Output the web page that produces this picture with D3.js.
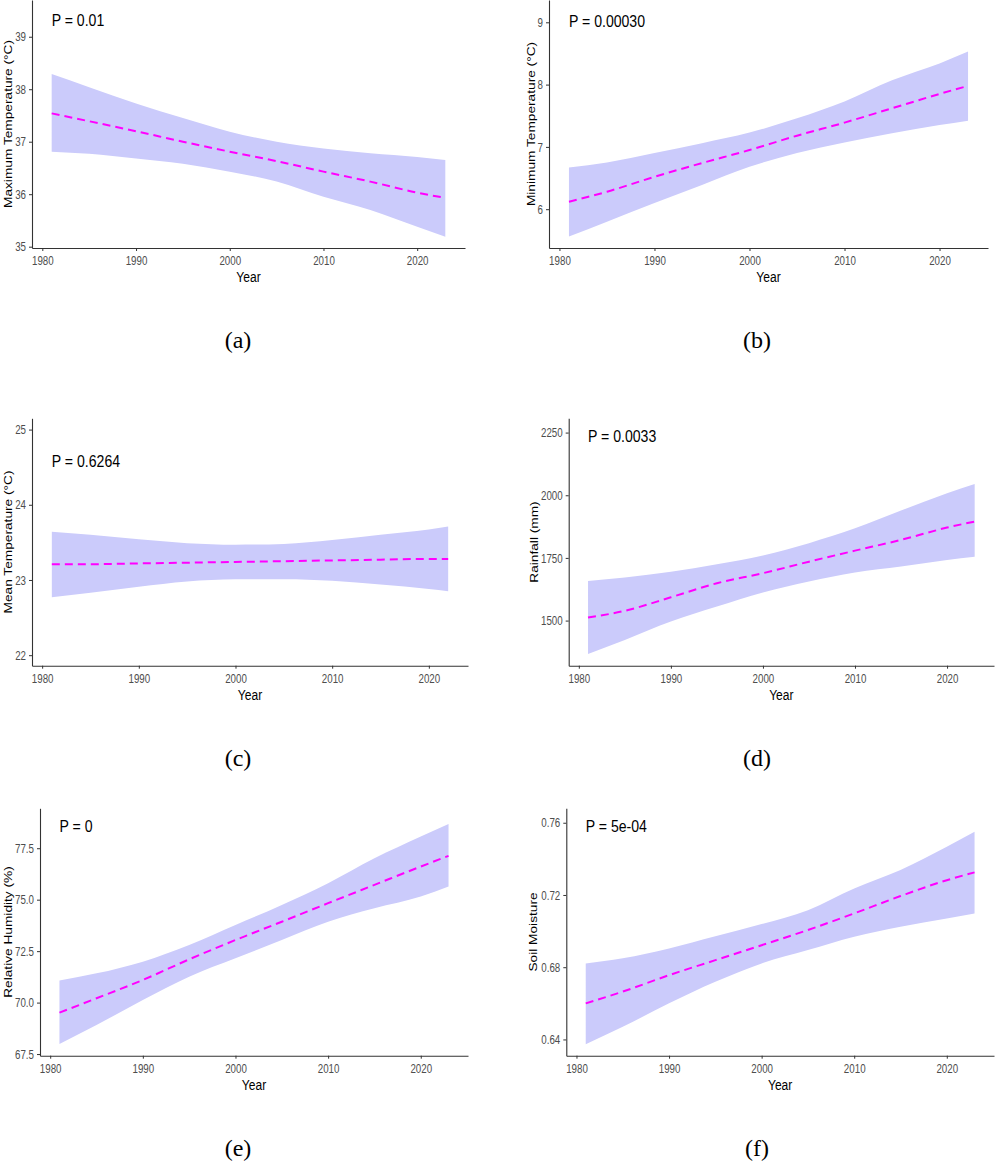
<!DOCTYPE html>
<html>
<head>
<meta charset="utf-8">
<script src="https://cdn.jsdelivr.net/npm/d3@7"></script>
<style>
  body { margin: 0; background: #fff; }
  text { font-family: "Liberation Sans", Arial, sans-serif; }
  .tick text { fill: #4d4d4d; font-size: 13px; }
  .tick line { stroke: #333; }
  .domain { stroke: #333; stroke-width: 1.1px; }
  .caption { font-family: "Liberation Serif", "Times New Roman", serif; font-size: 24px; fill: #000; }
</style>
</head>
<body>
<div id="chart"></div>
<script>
var years = [1981, 1985, 1990, 1995, 2000, 2005, 2010, 2015, 2020, 2023];
var yearsC = [1981, 1985, 1990, 1995, 2000, 2005, 2010, 2015, 2020, 2022];
var xTicks = [1980, 1990, 2000, 2010, 2020];

// (a) maximum temperature
var tmaxFit   = [37.54, 37.39, 37.20, 37.00, 36.81, 36.63, 36.43, 36.24, 36.03, 35.93];
var tmaxUpper = [38.29, 38.04, 37.73, 37.45, 37.19, 37.00, 36.87, 36.78, 36.71, 36.65];
var tmaxLower = [36.81, 36.77, 36.68, 36.58, 36.43, 36.24, 35.95, 35.70, 35.38, 35.19];
var tmaxTicks = [35, 36, 37, 38, 39];

// (b) minimum temperature
var tminFit   = [6.12, 6.28, 6.52, 6.74, 6.95, 7.18, 7.39, 7.62, 7.85, 7.98];
var tminUpper = [6.67, 6.75, 6.90, 7.06, 7.23, 7.46, 7.73, 8.07, 8.34, 8.53];
var tminLower = [5.56, 5.80, 6.10, 6.39, 6.68, 6.90, 7.07, 7.22, 7.35, 7.42];
var tminTicks = [6, 7, 8, 9];

// (c) mean temperature
var tmeanFit   = [23.21, 23.21, 23.22, 23.23, 23.24, 23.25, 23.26, 23.27, 23.28, 23.28];
var tmeanUpper = [23.64, 23.60, 23.54, 23.49, 23.47, 23.48, 23.53, 23.60, 23.67, 23.71];
var tmeanLower = [22.77, 22.83, 22.91, 22.98, 23.01, 23.01, 22.99, 22.94, 22.88, 22.85];
var tmeanTicks = [22, 23, 24, 25];

// (d) rainfall
var rainFit   = [1512, 1539, 1593, 1649, 1689, 1735, 1779, 1822, 1871, 1895];
var rainUpper = [1658, 1672, 1695, 1725, 1760, 1809, 1868, 1939, 2008, 2045];
var rainLower = [1367, 1423, 1496, 1556, 1612, 1656, 1692, 1716, 1742, 1755];
var rainTicks = [1500, 1750, 2000, 2250];

// (e) relative humidity
var rhFit   = [69.51, 70.21, 71.10, 72.10, 73.04, 73.93, 74.83, 75.72, 76.61, 77.13];
var rhUpper = [71.07, 71.42, 71.99, 72.80, 73.77, 74.74, 75.80, 77.01, 78.07, 78.68];
var rhLower = [67.99, 68.91, 70.13, 71.26, 72.15, 73.04, 73.93, 74.58, 75.15, 75.64];
var rhTicks = [67.5, 70.0, 72.5, 75.0, 77.5];

// (f) soil moisture
var smFit   = [0.660, 0.6665, 0.6756, 0.6839, 0.6922, 0.7006, 0.7098, 0.7194, 0.7282, 0.7325];
var smUpper = [0.6821, 0.6849, 0.6904, 0.6972, 0.7039, 0.7116, 0.7236, 0.7338, 0.7467, 0.7550];
var smLower = [0.6374, 0.6470, 0.6600, 0.6719, 0.6821, 0.6895, 0.6969, 0.7024, 0.7070, 0.7098];
var smTicks = [0.64, 0.68, 0.72, 0.76];

var yTitles = ["Maximum Temperature (\u00B0C)", "Minimum Temperature (\u00B0C)", "Mean Temperature (\u00B0C)",
               "Rainfall (mm)", "Relative Humidity (%)", "Soil Moisture"];
var pLabels = ["P = 0.01", "P = 0.00030", "P = 0.6264", "P = 0.0033", "P = 0", "P = 5e-04"];
var pLabelY = [39.30, 9.02, 24.57, 2234, 78.55, 0.7578];
var captions = ["(a)", "(b)", "(c)", "(d)", "(e)", "(f)"];

var panels = [
  {x: years,  fit: tmaxFit,  up: tmaxUpper,  lo: tmaxLower,  ticks: tmaxTicks,  fmt: d3.format("d")},
  {x: years,  fit: tminFit,  up: tminUpper,  lo: tminLower,  ticks: tminTicks,  fmt: d3.format("d")},
  {x: yearsC, fit: tmeanFit, up: tmeanUpper, lo: tmeanLower, ticks: tmeanTicks, fmt: d3.format("d")},
  {x: years,  fit: rainFit,  up: rainUpper,  lo: rainLower,  ticks: rainTicks,  fmt: d3.format("d")},
  {x: years,  fit: rhFit,    up: rhUpper,    lo: rhLower,    ticks: rhTicks,    fmt: d3.format(".1f")},
  {x: years,  fit: smFit,    up: smUpper,    lo: smLower,    ticks: smTicks,    fmt: d3.format(".2f")}
];

// plot-area placement and scale domains for each panel
var layout = [
  {left: 32,    right: 465, top: 0,     bottom: 248,    xd: [1978.9, 2025.1],  yd: [34.975, 39.70], titleX: 8,   capX: 238},
  {left: 549,   right: 988, top: 0,     bottom: 248,    xd: [1978.9, 2025.1],  yd: [5.377, 9.358],  titleX: 531, capX: 757},
  {left: 32,    right: 468, top: 418.3, bottom: 665.7,  xd: [1978.95, 2024.05], yd: [21.86, 25.15], titleX: 8,   capX: 238},
  {left: 568.7, right: 994, top: 418.3, bottom: 665.7,  xd: [1978.9, 2025.1],  yd: [1320, 2307],    titleX: 534, capX: 757},
  {left: 40,    right: 468, top: 808.3, bottom: 1055.7, xd: [1978.9, 2025.1],  yd: [67.42, 79.44],  titleX: 8,   capX: 238},
  {left: 566.3, right: 994, top: 808.3, bottom: 1055.7, xd: [1978.9, 2025.1],  yd: [0.631, 0.768],  titleX: 533, capX: 757}
];

// the source figure is squashed horizontally, so squeeze the glyphs a bit
function squeeze(sel, k) {
  sel.each(function() {
    var w = this.getComputedTextLength();
    d3.select(this)
      .attr("textLength", w * k)
      .attr("lengthAdjust", "spacingAndGlyphs");
  });
}

var svg = d3.select("#chart").append("svg")
  .attr("width", 996)
  .attr("height", 1162);

panels.forEach(function(p, i) {
  var L = layout[i];
  var x = d3.scaleLinear().domain(L.xd).range([L.left, L.right]);
  var y = d3.scaleLinear().domain(L.yd).range([L.bottom, L.top]);

  var rows = p.x.map(function(yr, j) {
    return {year: yr, fit: p.fit[j], up: p.up[j], lo: p.lo[j]};
  });

  var g = svg.append("g");

  // confidence band
  g.append("path")
    .datum(rows)
    .attr("fill", "#cbcbfb")
    .attr("d", d3.area()
      .curve(d3.curveMonotoneX)
      .x(function(d) { return x(d.year); })
      .y0(function(d) { return y(d.lo); })
      .y1(function(d) { return y(d.up); }));

  // fitted trend
  g.append("path")
    .datum(rows)
    .attr("fill", "none")
    .attr("stroke", "#ff00ff")
    .attr("stroke-width", 2)
    .attr("stroke-dasharray", "8,5")
    .attr("d", d3.line()
      .curve(d3.curveMonotoneX)
      .x(function(d) { return x(d.year); })
      .y(function(d) { return y(d.fit); }));

  // axes
  g.append("g")
    .attr("transform", "translate(0," + L.bottom + ")")
    .call(d3.axisBottom(x).tickValues(xTicks).tickFormat(d3.format("d"))
      .tickSize(3).tickPadding(5).tickSizeOuter(0));

  g.append("g")
    .attr("transform", "translate(" + L.left + ",0)")
    .call(d3.axisLeft(y).tickValues(p.ticks).tickFormat(p.fmt)
      .tickSize(3).tickPadding(3).tickSizeOuter(0));

  g.selectAll(".tick text").attr("font-family", null).attr("font-size", null);
  squeeze(g.selectAll(".tick text"), 0.75);

  // axis titles
  g.append("text")
    .attr("x", (L.left + L.right) / 2)
    .attr("y", L.bottom + 34)
    .attr("text-anchor", "middle")
    .attr("font-size", 14)
    .attr("fill", "#000")
    .text("Year")
    .call(squeeze, 0.86);

  g.append("text")
    .attr("transform", "translate(" + L.titleX + "," + ((L.top + L.bottom) / 2) + ") rotate(-90) scale(1,0.85)")
    .attr("text-anchor", "middle")
    .attr("dominant-baseline", "central")
    .attr("font-size", 13.7)
    .attr("fill", "#000")
    .text(yTitles[i]);

  // p-value annotation
  g.append("text")
    .attr("x", x(1981))
    .attr("y", y(pLabelY[i]))
    .attr("dominant-baseline", "central")
    .attr("font-size", 16)
    .attr("fill", "#000")
    .text(pLabels[i])
    .call(squeeze, 0.88);

  // panel caption
  g.append("text")
    .attr("class", "caption")
    .attr("x", L.capX)
    .attr("y", L.bottom + 100)
    .attr("text-anchor", "middle")
    .text(captions[i]);
});
</script>
</body>
</html>
